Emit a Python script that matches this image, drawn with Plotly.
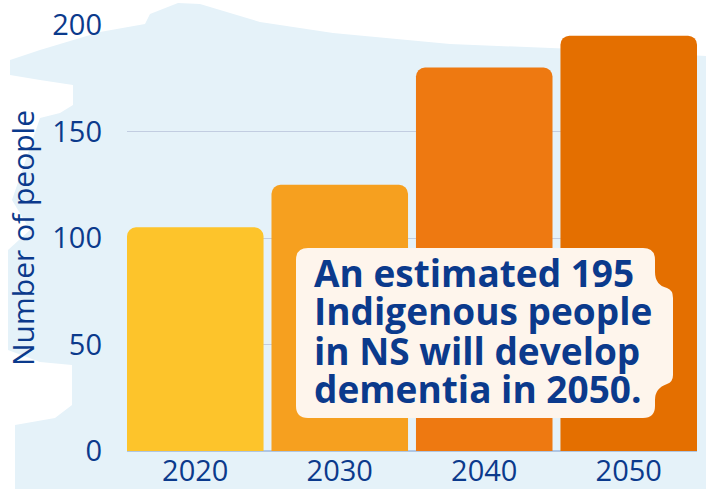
import plotly.graph_objects as go

# ---- data ----
years = ["2020", "2030", "2040", "2050"]
people = [105, 125, 180, 195]
bar_colors = ["#FDC42B", "#F6A01F", "#EE7911", "#E46F00"]
y_ticks = [0, 50, 100, 150, 200]
callout_lines = ["An estimated 195", "Indigenous people", "in NS will develop", "dementia in 2050."]
y_title = "Number of people"

NAVY = "#0B3A8C"
W, H = 706, 489
L, R, T, B = 127, 9, 25, 38
PW, PH = W - L - R, H - T - B
BARGAP = 0.055
half = (1 - BARGAP) / 2


def px(x):
    return (x - L) / PW


def py(y):
    return (H - B - y) / PH


def path_from(cmds):
    out = []
    for c in cmds:
        if isinstance(c, str):
            out.append(c)
        else:
            out.append(f"{px(c[0]):.5f},{py(c[1]):.5f}")
    return " ".join(out)


# brush-stroke background (decorative)
brush = [(10, 60), (40, 50), (100, 32), (145, 24), (150, 14), (178, 3), (200, 4), (260, 22),
         (333, 33), (450, 44), (600, 50), (706, 56), (706, 489), (15, 489), (15, 425), (55, 418),
         (72, 405), (72, 365), (40, 362), (8, 350), (8, 250), (30, 230), (12, 200), (40, 118),
         (60, 113), (73, 105), (73, 85), (40, 80), (10, 75)]
brush_cmds = ["M", brush[0]]
for p in brush[1:]:
    brush_cmds += ["L", p]
brush_cmds.append("Z")

callout_cmds = ["M", (308, 248), "L", (643, 248), "Q", (655, 248), (655, 260), "L", (655, 272),
                "Q", (655, 285), (667, 288), "Q", (673, 290), (673, 298), "L", (673, 375),
                "Q", (673, 382), (667, 384), "Q", (655, 388), (655, 400), "L", (655, 406),
                "Q", (655, 418), (643, 418), "L", (308, 418), "Q", (296, 418), (296, 406),
                "L", (296, 260), "Q", (296, 248), (308, 248), "Z"]

fig = go.Figure()
fig.add_trace(go.Bar(
    x=years, y=people,
    marker=dict(color=bar_colors, cornerradius=9, line=dict(width=0)),
    hoverinfo="x+y",
))

shapes = [
    dict(type="path", xref="paper", yref="paper", path=path_from(brush_cmds),
         fillcolor="#E5F2F9", line=dict(width=0), layer="below"),
    dict(type="path", xref="paper", yref="paper", path=path_from(callout_cmds),
         fillcolor="#FEF5EC", line=dict(width=0), layer="above"),
]

line_centers = [272, 311, 350, 388]
annotations = []
for txt, yc in zip(callout_lines, line_centers):
    annotations.append(dict(
        text=txt, xref="paper", yref="paper", x=px(312), y=py(yc),
        xanchor="left", yanchor="middle", showarrow=False,
        font=dict(family="Open Sans", size=37, color=NAVY, weight="bold"),
    ))

fig.update_layout(
    width=W, height=H,
    margin=dict(l=L, r=R, t=T, b=B, autoexpand=False),
    paper_bgcolor="white",
    plot_bgcolor="rgba(0,0,0,0)",
    bargap=BARGAP,
    showlegend=False,
    font=dict(family="Open Sans", color=NAVY),
    shapes=shapes,
    annotations=annotations,
    xaxis=dict(
        type="category", showgrid=False, showline=False, ticks="",
        range=[-half, len(years) - 1 + half],
        tickfont=dict(size=29, color=NAVY), ticklabelstandoff=0,
    ),
    yaxis=dict(
        range=[0, 200], tickvals=y_ticks, showgrid=True, gridcolor="#C2CDE1", gridwidth=1,
        zeroline=True, zerolinecolor="#AFC6E3", zerolinewidth=1.5,
        showline=False, ticks="", tickfont=dict(size=29, color=NAVY),
        ticklabelstandoff=24,
        title=dict(text=y_title, font=dict(size=30, color=NAVY), standoff=8),
    ),
)

fig.write_html("out.html")
